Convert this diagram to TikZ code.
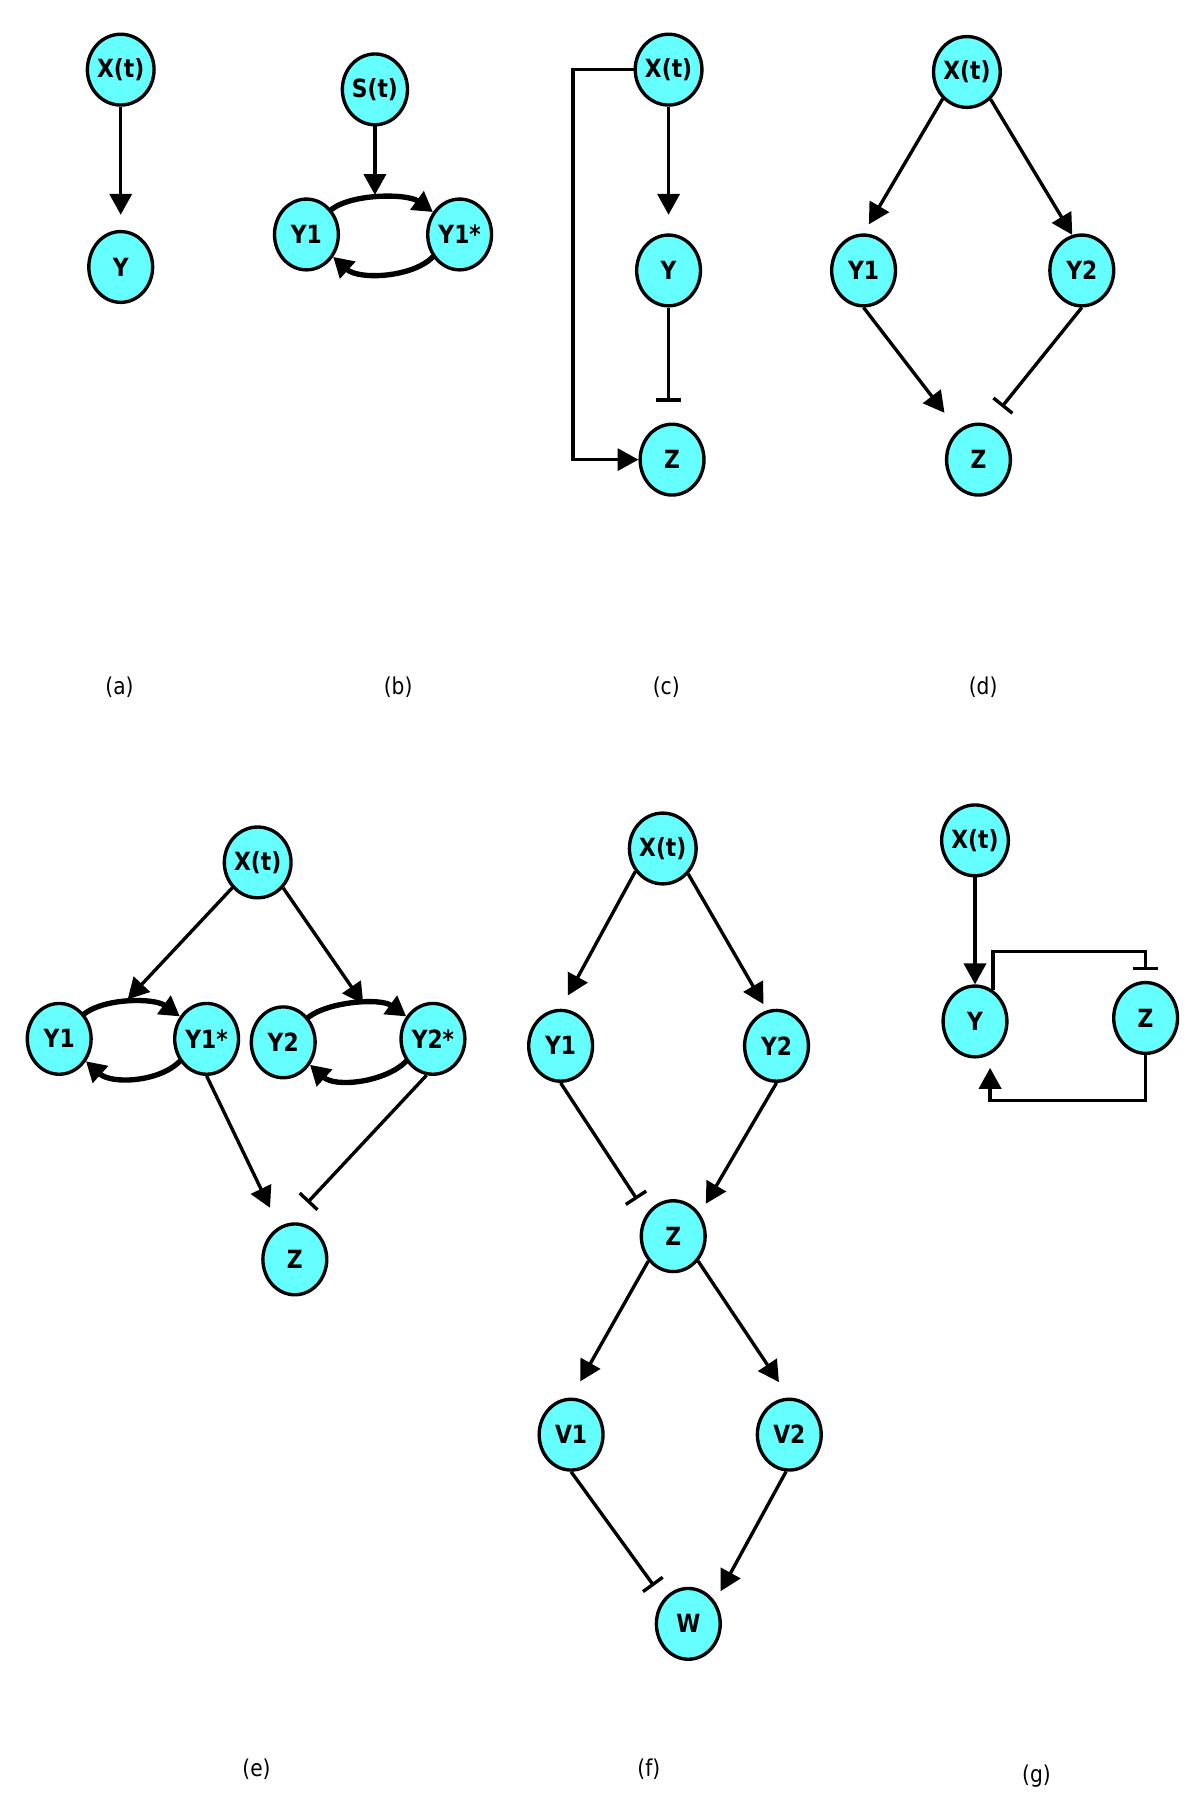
\documentclass[tikz,border=0pt]{standalone}
\usepackage{fontspec}
\usepackage{graphicx}
\setmainfont{DejaVu Sans}
\usetikzlibrary{shapes.geometric,arrows.meta}
\definecolor{nodecyan}{RGB}{102,255,255}
\newcommand\sqz[1]{\scalebox{0.87}[1]{#1}}
\begin{document}
\begin{tikzpicture}[x=0.5pt,y=-0.5pt,
  nd/.style={ellipse, draw=black, line width=1.45pt, fill=nodecyan, minimum width=27.5pt, minimum height=30.5pt, inner sep=0pt, font=\bfseries\fontsize{10.8pt}{12pt}\selectfont},
  arr/.style={line width=1.45pt, -{Triangle[length=9pt,width=9.5pt]}},
  inh/.style={line width=1.45pt, -{Bar[width=10.5pt]}},
  curv/.style={line width=2.3pt, line cap=round, -{Triangle[length=8.5pt,width=9.5pt]}},
  lab/.style={font=\fontsize{10pt}{12pt}\selectfont}]
\fill[white] (0,0) rectangle (1034,1568);
\useasboundingbox (0,0) rectangle (1034,1568);

% (a)
\node[nd] (xa) at (104,60) {\sqz{X(t)}};
\node[nd] (ya) at (104,230) {\sqz{Y}};
\draw[arr, shorten >=6.5pt] (xa) -- (ya);
\node[lab] (la) at (103,592) {\sqz{(a)}};

% (b)
\node[nd] (sb) at (323,77) {\sqz{S(t)}};
\node[nd] (y1b) at (264,202) {\sqz{Y1}};
\node[nd] (y1sb) at (396,202) {\sqz{Y1*}};
\draw[curv] (y1b.45) .. controls +(18,-14) and +(-22,-16) .. (y1sb.140);
\draw[curv] (y1sb.-140) .. controls +(-18,18) and +(22,20) .. (y1b.-40);
\coordinate (bm) at (323,168);
\draw[arr] (sb) -- (bm);
\node[lab] (lb) at (343,592) {\sqz{(b)}};

% (c)
\node[nd] (xc) at (576,60) {\sqz{X(t)}};
\node[nd] (yc) at (576,233) {\sqz{Y}};
\node[nd] (zc) at (579,396) {\sqz{Z}};
\draw[arr, shorten >=8pt] (xc) -- (yc);
\draw[inh, shorten >=9pt] (yc.south) -- (yc.south |- zc.north);
\draw[arr] (xc.west) -- ++(-52,0) |- (zc.west);
\node[lab] (lc) at (574,592) {\sqz{(c)}};

% (d)
\node[nd] (xd) at (833,62) {\sqz{X(t)}};
\node[nd] (y1d) at (744,233) {\sqz{Y1}};
\node[nd] (y2d) at (932,233) {\sqz{Y2}};
\node[nd] (zd) at (843,396) {\sqz{Z}};
\draw[arr, shorten >=4.5pt] (xd.-132) -- (y1d.north);
\draw[arr] (xd.-49) -- (y2d.105);
\draw[arr, shorten >=9.5pt] (y1d.south) -- (zd.125);
\draw[inh, shorten >=9.5pt] (y2d.south) -- (zd.75);
\node[lab] (ld) at (847,592) {\sqz{(d)}};

% (e)
\node[nd] (xe) at (222,743) {\sqz{X(t)}};
\node[nd] (y1e) at (51,895) {\sqz{Y1}};
\node[nd] (y1se) at (178,895) {\sqz{Y1*}};
\node[nd] (y2e) at (244,898) {\sqz{Y2}};
\node[nd] (y2se) at (373,895) {\sqz{Y2*}};
\node[nd] (ze) at (254,1085) {\sqz{Z}};
\draw[curv] (y1e.45) .. controls +(18,-14) and +(-22,-16) .. (y1se.140);
\draw[curv] (y1se.-140) .. controls +(-18,18) and +(22,20) .. (y1e.-40);
\draw[curv] (y2e.45) .. controls +(18,-14) and +(-22,-16) .. (y2se.140);
\draw[curv] (y2se.-140) .. controls +(-18,18) and +(22,20) .. (y2e.-40);
\coordinate (e1m) at (110,861);
\coordinate (e2m) at (313,865);
\draw[arr] (xe.-135) -- (e1m);
\draw[arr] (xe.-45) -- (e2m);
\draw[arr, shorten >=9pt] (y1se.south) -- (ze);
\draw[inh, shorten >=12pt] (y2se.-100) -- (ze.100);
\node[lab] (le) at (221,1524) {\sqz{(e)}};

% (f)
\node[nd] (xf) at (571,731) {\sqz{X(t)}};
\node[nd] (y1f) at (483,901) {\sqz{Y1}};
\node[nd] (y2f) at (669,901) {\sqz{Y2}};
\node[nd] (zf) at (580,1065) {\sqz{Z}};
\node[nd] (v1f) at (492,1236) {\sqz{V1}};
\node[nd] (v2f) at (680,1236) {\sqz{V2}};
\node[nd] (wf) at (593,1399) {\sqz{W}};
\draw[arr, shorten >=6.5pt] (xf.-140) -- (y1f.north);
\draw[arr, shorten >=3pt] (xf.-45) -- (y2f.105);
\draw[inh, shorten >=7.5pt] (y1f.south) -- (zf.140);
\draw[arr, shorten >=5pt] (y2f.south) -- (zf.40);
\draw[arr, shorten >=8pt] (zf.-135) -- (v1f.north);
\draw[arr, shorten >=8pt] (zf.-45) -- (v2f.north);
\draw[inh, shorten >=7pt] (v1f.south) -- (wf.135);
\draw[arr, shorten >=5pt] (v2f.-95) -- (wf.40);
\node[lab] (lf) at (559,1524) {\sqz{(f)}};

% (g)
\node[nd] (xg) at (840,724) {\sqz{X(t)}};
\node[nd] (yg) at (840,880) {\sqz{Y}};
\node[nd] (zg) at (987,877) {\sqz{Z}};
\draw[arr] (xg) -- (yg);
\coordinate (gtr) at (987,820);
\draw[inh, shorten >=4.5pt] (yg.60) |- (gtr) -- (zg.north);
\coordinate (gbl) at (853,948);
\coordinate (gtip) at (853,920);
\draw[arr] (zg.south) |- (gbl) -- (gtip);
\node[lab] (lg) at (893,1530) {\sqz{(g)}};
\end{tikzpicture}
\end{document}
